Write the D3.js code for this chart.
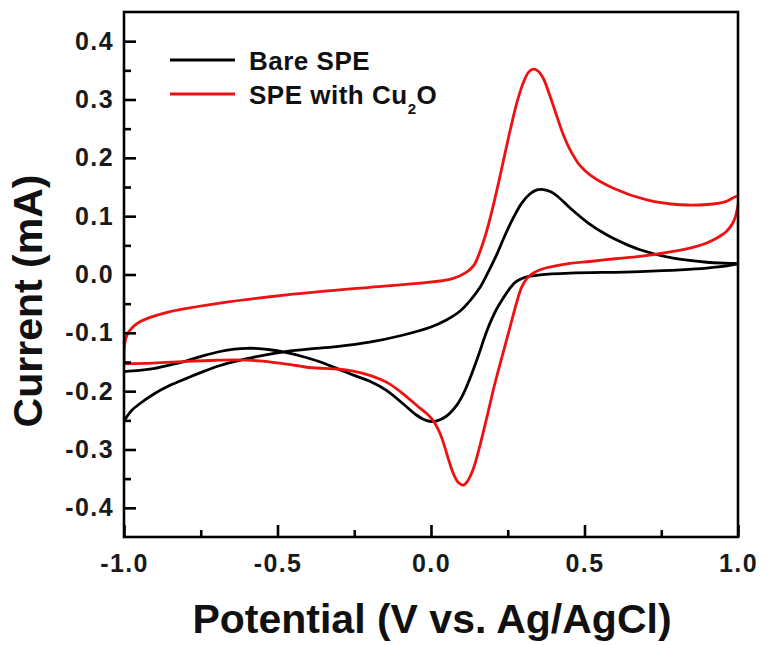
<!DOCTYPE html>
<html><head><meta charset="utf-8">
<script src="https://cdn.jsdelivr.net/npm/d3@7"></script>
<style>
body{margin:0;background:#fff}
text{font-family:"Liberation Sans",Arial,Helvetica,sans-serif;font-weight:bold}
</style>
</head><body><svg id="chart" width="771" height="645"></svg>
<script>
// ---- data ----
const seriesNames = ["Bare SPE", "SPE with Cu", "2", "O"];
const seriesColors = ["#000000", "#ee1111"];

// Bare SPE: anodic scan (-1 -> 1) then cathodic scan (1 -> -1)
const bareV = [-1.0,-0.99,-0.975,-0.95,-0.9,-0.85,-0.796,-0.74,-0.687,-0.63,-0.579,-0.52,-0.47,-0.4,-0.307,-0.2,-0.1,0.0,0.05,0.094,0.13,0.16,0.19,0.214,0.24,0.268,0.295,0.322,0.345,0.366,0.39,0.41,0.453,0.51,0.572,0.63,0.681,0.789,0.898,1.0,
  0.898,0.681,0.453,0.355,0.322,0.3,0.275,0.255,0.236,0.21,0.181,0.155,0.127,0.105,0.084,0.05,0.019,0.0,-0.025,-0.05,-0.09,-0.144,-0.199,-0.25,-0.307,-0.36,-0.416,-0.47,-0.524,-0.56,-0.6,-0.64,-0.687,-0.74,-0.796,-0.85,-0.9,-0.95,-1.0];
const bareI = [-0.252,-0.243,-0.233,-0.222,-0.204,-0.19,-0.178,-0.166,-0.156,-0.148,-0.142,-0.136,-0.132,-0.128,-0.1236,-0.116,-0.105,-0.09,-0.078,-0.063,-0.043,-0.022,0.008,0.034,0.066,0.097,0.122,0.138,0.145,0.1455,0.142,0.135,0.114,0.089,0.068,0.053,0.0424,0.028,0.021,0.018,
  0.011,0.005,0.0023,-0.0006,-0.003,-0.006,-0.013,-0.025,-0.04,-0.063,-0.098,-0.138,-0.178,-0.205,-0.224,-0.243,-0.251,-0.252,-0.248,-0.24,-0.222,-0.199,-0.183,-0.173,-0.161,-0.15,-0.141,-0.134,-0.129,-0.127,-0.1265,-0.128,-0.132,-0.139,-0.148,-0.155,-0.161,-0.1645,-0.1665];

// SPE with Cu2O: anodic scan then cathodic scan
const cu2oV = [-1.0,-0.998,-0.99,-0.975,-0.948,-0.9,-0.85,-0.687,-0.47,-0.2,-0.036,0.07,0.116,0.14,0.16,0.18,0.2,0.22,0.24,0.26,0.28,0.30,0.318,0.333,0.348,0.366,0.385,0.405,0.43,0.455,0.485,0.52,0.594,0.703,0.811,0.9,0.96,1.0,
  0.995,0.985,0.963,0.93,0.898,0.85,0.789,0.681,0.6,0.518,0.453,0.36,0.335,0.312,0.295,0.279,0.26,0.236,0.21,0.181,0.16,0.138,0.118,0.105,0.09,0.075,0.06,0.045,0.03,0.015,0.0,-0.015,-0.036,-0.09,-0.134,-0.16,-0.199,-0.25,-0.307,-0.35,-0.405,-0.44,-0.492,-0.56,-0.633,-0.7,-0.796,-0.905,-1.0];
const cu2oI = [-0.152,-0.12,-0.103,-0.092,-0.081,-0.071,-0.0635,-0.049,-0.035,-0.022,-0.0149,-0.007,0.004,0.016,0.04,0.072,0.112,0.157,0.205,0.252,0.295,0.328,0.347,0.352,0.349,0.336,0.31,0.279,0.241,0.212,0.187,0.17,0.148,0.128,0.1196,0.12,0.125,0.134,
  0.106,0.09,0.074,0.062,0.054,0.046,0.0395,0.031,0.027,0.0223,0.019,0.009,0.003,-0.007,-0.022,-0.048,-0.085,-0.132,-0.183,-0.247,-0.292,-0.333,-0.355,-0.361,-0.357,-0.344,-0.322,-0.296,-0.273,-0.257,-0.246,-0.238,-0.229,-0.205,-0.188,-0.181,-0.173,-0.166,-0.162,-0.161,-0.159,-0.156,-0.152,-0.148,-0.1465,-0.147,-0.149,-0.152,-0.153];

const xTicks = [-1.0, -0.5, 0.0, 0.5, 1.0];
const xMinorTicks = [-0.75, -0.25, 0.25, 0.75];
const yTicks = [-0.4, -0.3, -0.2, -0.1, 0.0, 0.1, 0.2, 0.3, 0.4];
const yMinorTicks = [-0.35, -0.25, -0.15, -0.05, 0.05, 0.15, 0.25, 0.35];
const xTitle = "Potential (V vs. Ag/AgCl)";
const yTitle = "Current (mA)";

// ---- layout ----
const W = 771, H = 645;
const m = {left: 124, right: 33, top: 12, bottom: 108};
const svg = d3.select("#chart");
const x = d3.scaleLinear().domain([-1, 1]).range([m.left, W - m.right]);
const y = d3.scaleLinear().domain([-0.45, 0.45]).range([H - m.bottom, m.top]);
const fmt = d => (+d).toFixed(1);

svg.append("defs").append("clipPath").attr("id", "clip")
  .append("rect").attr("x", m.left).attr("y", m.top)
  .attr("width", x(1) - x(-1)).attr("height", y(-0.45) - y(0.45));

const line = d3.line().x(d => x(d[0])).y(d => y(d[1])).curve(d3.curveCatmullRom.alpha(0.5));
const series = [
  {pts: d3.zip(bareV, bareI), color: seriesColors[0]},
  {pts: d3.zip(cu2oV, cu2oI), color: seriesColors[1]}
];
svg.append("g").attr("clip-path", "url(#clip)")
  .selectAll("path").data(series).join("path")
  .attr("d", d => line(d.pts))
  .attr("fill", "none").attr("stroke", d => d.color)
  .attr("stroke-width", 2.8).attr("stroke-linejoin", "round");

// ---- axes ----
const styleAxis = g => {
  g.select(".domain").remove();
  g.selectAll(".tick line").attr("stroke", "#000").attr("stroke-width", 2.6);
  g.selectAll(".tick text").attr("fill", "#1a1a1a").style("font-size", "25px")
   .style("letter-spacing", "1.4px").attr("font-family", null);
};
svg.append("g").attr("transform", `translate(0,${y(-0.45)})`)
  .call(d3.axisBottom(x).tickValues(xTicks).tickFormat(fmt).tickSizeInner(-12).tickSizeOuter(0).tickPadding(17))
  .call(styleAxis);
svg.append("g").attr("transform", `translate(0,${y(-0.45)})`)
  .call(d3.axisBottom(x).tickValues(xMinorTicks).tickFormat("").tickSizeInner(-7).tickSizeOuter(0))
  .call(styleAxis);
svg.append("g").attr("transform", `translate(${x(-1)},0)`)
  .call(d3.axisLeft(y).tickValues(yTicks).tickFormat(fmt).tickSizeInner(-12).tickSizeOuter(0).tickPadding(10))
  .call(styleAxis);
svg.append("g").attr("transform", `translate(${x(-1)},0)`)
  .call(d3.axisLeft(y).tickValues(yMinorTicks).tickFormat("").tickSizeInner(-7).tickSizeOuter(0))
  .call(styleAxis);

svg.append("rect").attr("x", x(-1)).attr("y", y(0.45))
  .attr("width", x(1) - x(-1)).attr("height", y(-0.45) - y(0.45))
  .attr("fill", "none").attr("stroke", "#000").attr("stroke-width", 2.6);

// ---- titles ----
svg.append("text").attr("x", (x(-1) + x(1)) / 2 + 1).attr("y", 633)
  .attr("text-anchor", "middle").style("font-size", "41px").attr("fill", "#111")
  .text(xTitle);
svg.append("text").attr("transform", "translate(42,301) rotate(-90)")
  .attr("text-anchor", "middle").style("font-size", "41px").attr("fill", "#111")
  .text(yTitle);

// ---- legend ----
const lg = svg.append("g");
const legendRows = [{y: 60, color: seriesColors[0]}, {y: 94, color: seriesColors[1]}];
lg.selectAll("line").data(legendRows).join("line")
  .attr("x1", 170).attr("x2", 235).attr("y1", d => d.y).attr("y2", d => d.y)
  .attr("stroke", d => d.color).attr("stroke-width", 3);
lg.append("text").attr("x", 249).attr("y", 70).style("font-size", "26px")
  .style("letter-spacing", "0.5px").attr("fill", "#111").text(seriesNames[0]);
const t2 = lg.append("text").attr("x", 249).attr("y", 104).style("font-size", "26px")
  .style("letter-spacing", "0.5px").attr("fill", "#111");
t2.append("tspan").text(seriesNames[1]);
t2.append("tspan").attr("dy", 10).style("font-size", "15px").text(seriesNames[2]);
t2.append("tspan").attr("dy", -10).text(seriesNames[3]);
</script></body></html>
